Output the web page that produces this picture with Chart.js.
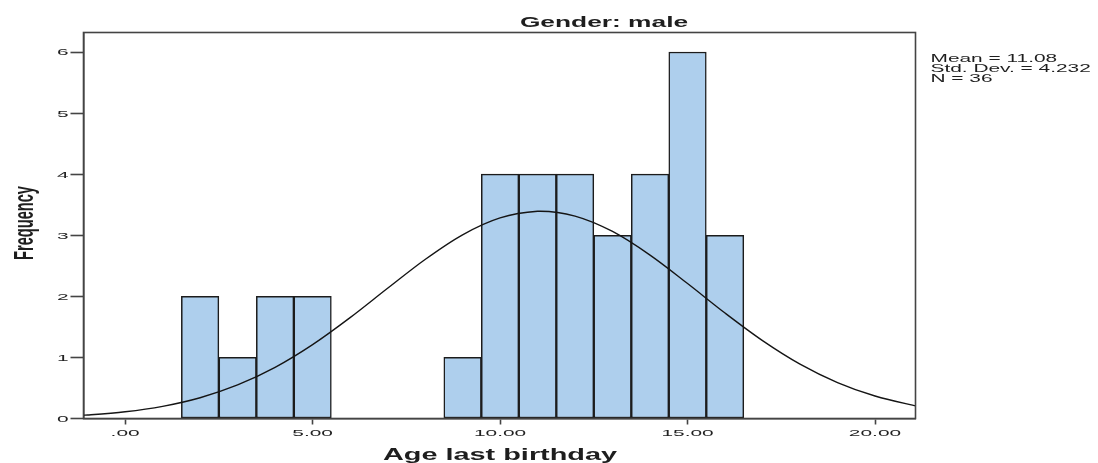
<!DOCTYPE html>
<html>
<head>
<meta charset="utf-8">
<script src="https://cdn.jsdelivr.net/npm/chart.js@4.4.0/dist/chart.umd.min.js"></script>
<style>
  html, body { margin: 0; padding: 0; background: #ffffff; }
  #wrap { width: 1098px; height: 463px; }
</style>
</head>
<body>
<div id="wrap"><canvas id="c" width="1098" height="463"></canvas></div>
<script>
// ---- Data ----
const chartTitle = 'Gender: male';
const xAxisTitle = 'Age last birthday';
const yAxisTitle = 'Frequency';
const statsLines = ['Mean = 11.08', 'Std. Dev. = 4.232', 'N = 36'];

// histogram bins (centre of each 1-year bin) and their frequencies
const binCenters  = [2, 3, 4, 5, 9, 10, 11, 12, 13, 14, 15, 16];
const frequencies = [2, 1, 2, 2, 1, 4, 4, 4, 3, 4, 6, 3];

// fitted normal curve
const curveX = [-1.11, -1, 0, 1, 2, 3, 4, 5, 6, 7, 8, 9, 10, 11, 11.08, 12, 13, 14, 15, 16, 17, 18, 19, 20, 21, 21.08];
const curveY = [0.054, 0.058, 0.110, 0.199, 0.340, 0.549, 0.837, 1.209, 1.651, 2.132, 2.604, 3.008, 3.285, 3.393, 3.394, 3.314, 3.062, 2.675, 2.210, 1.727, 1.276, 0.891, 0.589, 0.368, 0.218, 0.208];

// axis ticks
const xTickValues = [0, 5, 10, 15, 20];
const xTickLabels = ['.00', '5.00', '10.00', '15.00', '20.00'];
const yTickValues = [0, 1, 2, 3, 4, 5, 6];
const yTickLabels = ['0', '1', '2', '3', '4', '5', '6'];

const xMin = -1.11, xMax = 21.08, yMin = 0, yMax = 6.32;

// ---- Styling ----
const FONT = '"Liberation Sans", Arial, sans-serif';
const TEXT = '#1e1e1e';
const AXIS = '#444444';

function stretchedText(ctx, text, x, y, opts) {
  ctx.save();
  ctx.translate(x, y);
  ctx.scale(opts.sx || 1, 1);
  if (opts.rotate) ctx.rotate(opts.rotate);
  ctx.font = opts.font;
  ctx.fillStyle = opts.color || TEXT;
  ctx.textAlign = opts.align || 'left';
  ctx.textBaseline = 'alphabetic';
  ctx.fillText(text, 0, 0);
  ctx.restore();
}

const textPlugin = {
  id: 'spssText',
  afterDraw(chart) {
    const ctx = chart.ctx;
    const area = chart.chartArea;
    // frame around plot
    ctx.save();
    ctx.strokeStyle = AXIS;
    ctx.lineWidth = 1.6;
    ctx.strokeRect(area.left, area.top, area.right - area.left, area.bottom - area.top);
    ctx.restore();

    // title
    stretchedText(ctx, chartTitle, 604, 26.5, { font: 'bold 14px ' + FONT, sx: 1.88, align: 'center' });
    // stats box
    const sBase = [61.7, 72.0, 82.3];
    statsLines.forEach((s, i) => stretchedText(ctx, s, 930.5, sBase[i], { font: '11.6px ' + FONT, sx: 1.8 }));
    // x axis title
    stretchedText(ctx, xAxisTitle, 500, 460, { font: 'bold 16.7px ' + FONT, sx: 1.73, align: 'center' });
    // y axis title
    stretchedText(ctx, yAxisTitle, 33, 223, { font: 'bold 14.6px ' + FONT, sx: 1.9, align: 'center', rotate: -Math.PI / 2 });

    // tick labels from the library's scales
    const xs = chart.scales.x, ys = chart.scales.y;
    xs.ticks.forEach(t => {
      const i = xTickValues.indexOf(t.value);
      if (i < 0) return;
      stretchedText(ctx, xTickLabels[i], xs.getPixelForValue(t.value), 435.5, { font: '9.5px ' + FONT, sx: 2.2, align: 'center', color: '#222' });
    });
    ys.ticks.forEach(t => {
      const i = yTickValues.indexOf(t.value);
      if (i < 0) return;
      stretchedText(ctx, yTickLabels[i], 68.5, ys.getPixelForValue(t.value) + 3.4, { font: '9.5px ' + FONT, sx: 2.2, align: 'right', color: '#222' });
    });
  }
};

new Chart(document.getElementById('c'), {
  type: 'bar',
  data: {
    datasets: [
      {
        type: 'line',
        data: curveX.map((x, i) => ({ x: x, y: curveY[i] })),
        borderColor: '#151515',
        borderWidth: 1.4,
        pointRadius: 0,
        fill: false,
        cubicInterpolationMode: 'monotone',
        order: 0
      },
      {
        type: 'bar',
        data: binCenters.map((x, i) => ({ x: x, y: frequencies[i] })),
        backgroundColor: '#aecfed',
        borderColor: '#1c1c1c',
        borderWidth: 1.5,
        borderSkipped: false,
        barPercentage: 1.0,
        categoryPercentage: 1.0,
        order: 1
      }
    ]
  },
  options: {
    responsive: false,
    animation: false,
    devicePixelRatio: 1,
    events: [],
    layout: { padding: { left: 0, right: 182.5, top: 32.5, bottom: 0 } },
    plugins: { legend: { display: false }, title: { display: false }, tooltip: { enabled: false } },
    scales: {
      x: {
        type: 'linear',
        min: xMin, max: xMax,
        offset: false,
        ticks: { display: false, stepSize: 5, includeBounds: false },
        grid: { offset: false, drawOnChartArea: false, drawTicks: true, tickLength: 6, tickColor: AXIS, tickWidth: 1.6 },
        border: { display: true, color: AXIS, width: 1.6 },
        afterFit(s) { s.height = 44.5; }
      },
      y: {
        type: 'linear',
        min: yMin, max: yMax,
        ticks: { display: false, stepSize: 1, includeBounds: false },
        grid: { offset: false, drawOnChartArea: false, drawTicks: true, tickLength: 13, tickColor: AXIS, tickWidth: 1.6 },
        border: { display: true, color: AXIS, width: 1.6 },
        afterFit(s) { s.width = 83.5; }
      }
    }
  },
  plugins: [textPlugin]
});
</script>
</body>
</html>
